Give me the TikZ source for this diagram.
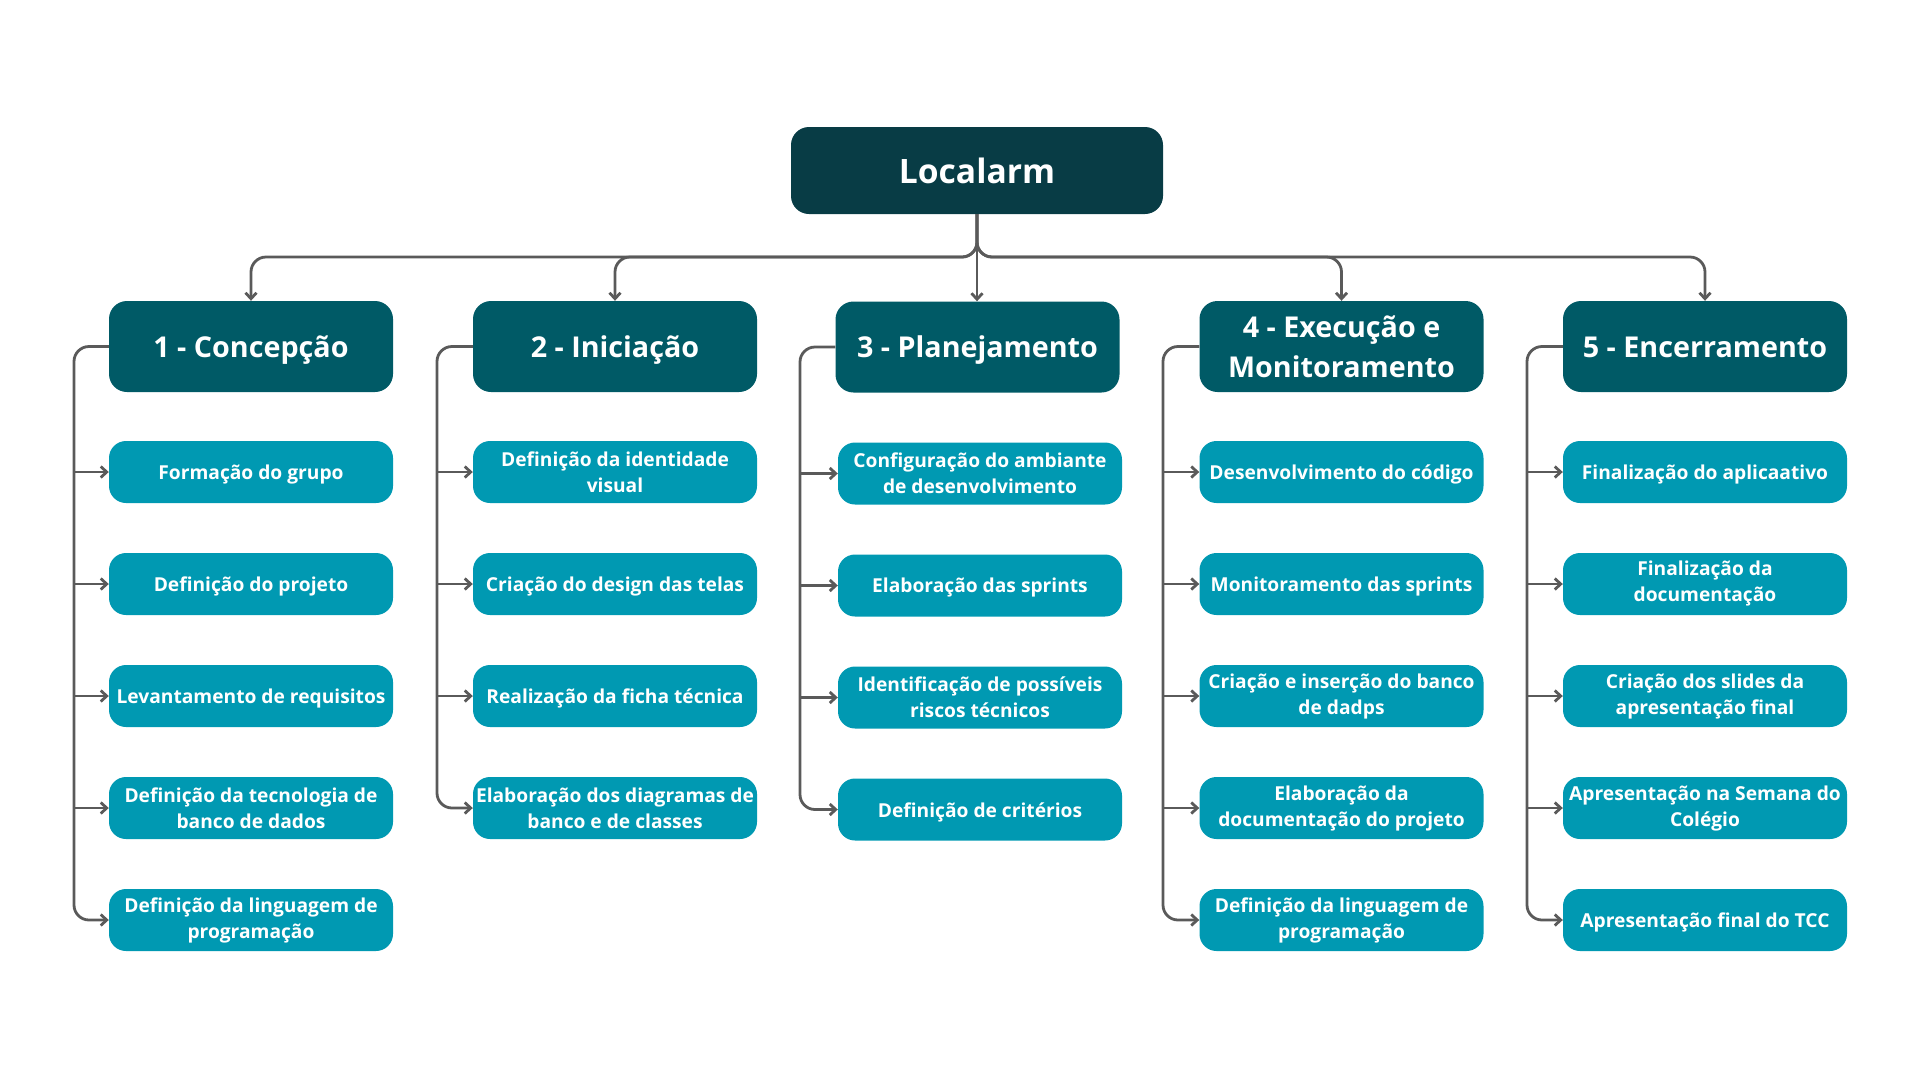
\documentclass[tikz,border=0pt]{standalone}
\usepackage{fontspec}
\setmainfont{Open Sans}
\usetikzlibrary{arrows.meta,calc}
\definecolor{rootc}{HTML}{083C45}
\definecolor{headc}{HTML}{005A66}
\definecolor{childc}{HTML}{0099B2}
\definecolor{linec}{HTML}{5A5A5A}
\newcommand{\dnc}[1]{\raisebox{-2.5pt}[\height][\depth]{#1}}
\newcommand{\dnh}[1]{\raisebox{-3.5pt}[\height][\depth]{#1}}
\begin{document}
\begin{tikzpicture}[x=1pt,y=-1pt,
  rootbox/.style={fill=rootc,rounded corners=18pt,minimum width=372pt,minimum height=87pt,text=white,font=\fontsize{33.6}{42}\selectfont\bfseries,align=center,inner sep=2pt},
  headbox/.style={fill=headc,rounded corners=18pt,minimum width=284pt,minimum height=91pt,text=white,font=\fontsize{28.7}{40}\selectfont\bfseries,align=center,inner sep=2pt},
  childbox/.style={fill=childc,rounded corners=17pt,minimum width=284pt,minimum height=62pt,text=white,font=\fontsize{19.2}{26}\selectfont\bfseries,align=center,inner sep=1pt},
  conn/.style={draw=linec,line width=2.8pt,-{Straight Barb[length=6pt,width=11pt]}},
  connr/.style={conn,rounded corners=15pt}
]
\useasboundingbox (0,0) rectangle (1920,1080);
\node[rootbox] (root) at (977,170.5) {Localarm};
\node[headbox] (h1) at (251,346.5) {\dnh{1 - Concepção}};
\node[headbox] (h2) at (615,346.5) {\dnh{2 - Iniciação}};
\node[headbox] (h3) at (977.5,347) {\dnh{3 - Planejamento}};
\node[headbox] (h4) at (1341.5,346.5) {4 - Execução e\\Monitoramento};
\node[headbox] (h5) at (1705,346.5) {\raisebox{-0.8pt}[\height][\depth]{5 - Encerramento}};
% column 1
\node[childbox] (c11) at (251,472) {\dnc{Formação do grupo}};
\node[childbox] (c12) at (251,584) {\dnc{Definição do projeto}};
\node[childbox] (c13) at (251,696) {\dnc{Levantamento de requisitos}};
\node[childbox] (c14) at (251,808) {Definição da tecnologia de\\banco de dados};
\node[childbox] (c15) at (251,920) {Definição da linguagem de\\programação};
% column 2
\node[childbox] (c21) at (615,472) {Definição da identidade\\visual};
\node[childbox] (c22) at (615,584) {\dnc{Criação do design das telas}};
\node[childbox] (c23) at (615,696) {\dnc{Realização da ficha técnica}};
\node[childbox] (c24) at (615,808) {Elaboração dos diagramas de\\banco e de classes};
% column 3
\node[childbox] (c31) at (980,473.5) {Configuração do ambiante\\de desenvolvimento};
\node[childbox] (c32) at (980,585.5) {\dnc{Elaboração das sprints}};
\node[childbox] (c33) at (980,697.5) {Identificação de possíveis\\riscos técnicos};
\node[childbox] (c34) at (980,809.5) {\dnc{Definição de critérios}};
% column 4
\node[childbox] (c41) at (1341.5,472) {\dnc{Desenvolvimento do código}};
\node[childbox] (c42) at (1341.5,584) {\dnc{Monitoramento das sprints}};
\node[childbox] (c43) at (1341.5,696) {Criação e inserção do banco\\de dadps};
\node[childbox] (c44) at (1341.5,808) {Elaboração da\\documentação do projeto};
\node[childbox] (c45) at (1341.5,920) {Definição da linguagem de\\programação};
% column 5
\node[childbox] (c51) at (1705,472) {\dnc{Finalização do aplicaativo}};
\node[childbox] (c52) at (1705,584) {Finalização da\\documentação};
\node[childbox] (c53) at (1705,696) {Criação dos slides da\\apresentação final};
\node[childbox] (c54) at (1705,808) {Apresentação na Semana do\\Colégio};
\node[childbox] (c55) at (1705,920) {\dnc{Apresentação final do TCC}};
% top connectors
\coordinate (bus) at (977,257);
\draw[connr] (root.south) -- (bus) -| (h1.north);
\draw[connr] (root.south) -- (bus) -| (h2.north);
\draw[conn] (root.south) -- (h3.north -| root.south);
\draw[connr] (root.south) -- (bus) -| (h4.north);
\draw[connr] (root.south) -- (bus) -| (h5.north);
% side spines
\coordinate (s1) at (74,346.5);
\coordinate (s2) at (437,346.5);
\coordinate (s3) at (800,347);
\coordinate (s4) at (1163,346.5);
\coordinate (s5) at (1527,346.5);
\draw[connr] (h1.west) -- (s1) |- (c15.west);
\foreach \c in {c11,c12,c13,c14} \draw[conn] (\c.west -| s1) -- (\c.west);
\draw[connr] (h2.west) -- (s2) |- (c24.west);
\foreach \c in {c21,c22,c23} \draw[conn] (\c.west -| s2) -- (\c.west);
\draw[connr] (h3.west) -- (s3) |- (c34.west);
\foreach \c in {c31,c32,c33} \draw[conn] (\c.west -| s3) -- (\c.west);
\draw[connr] (h4.west) -- (s4) |- (c45.west);
\foreach \c in {c41,c42,c43,c44} \draw[conn] (\c.west -| s4) -- (\c.west);
\draw[connr] (h5.west) -- (s5) |- (c55.west);
\foreach \c in {c51,c52,c53,c54} \draw[conn] (\c.west -| s5) -- (\c.west);
\end{tikzpicture}
\end{document}
